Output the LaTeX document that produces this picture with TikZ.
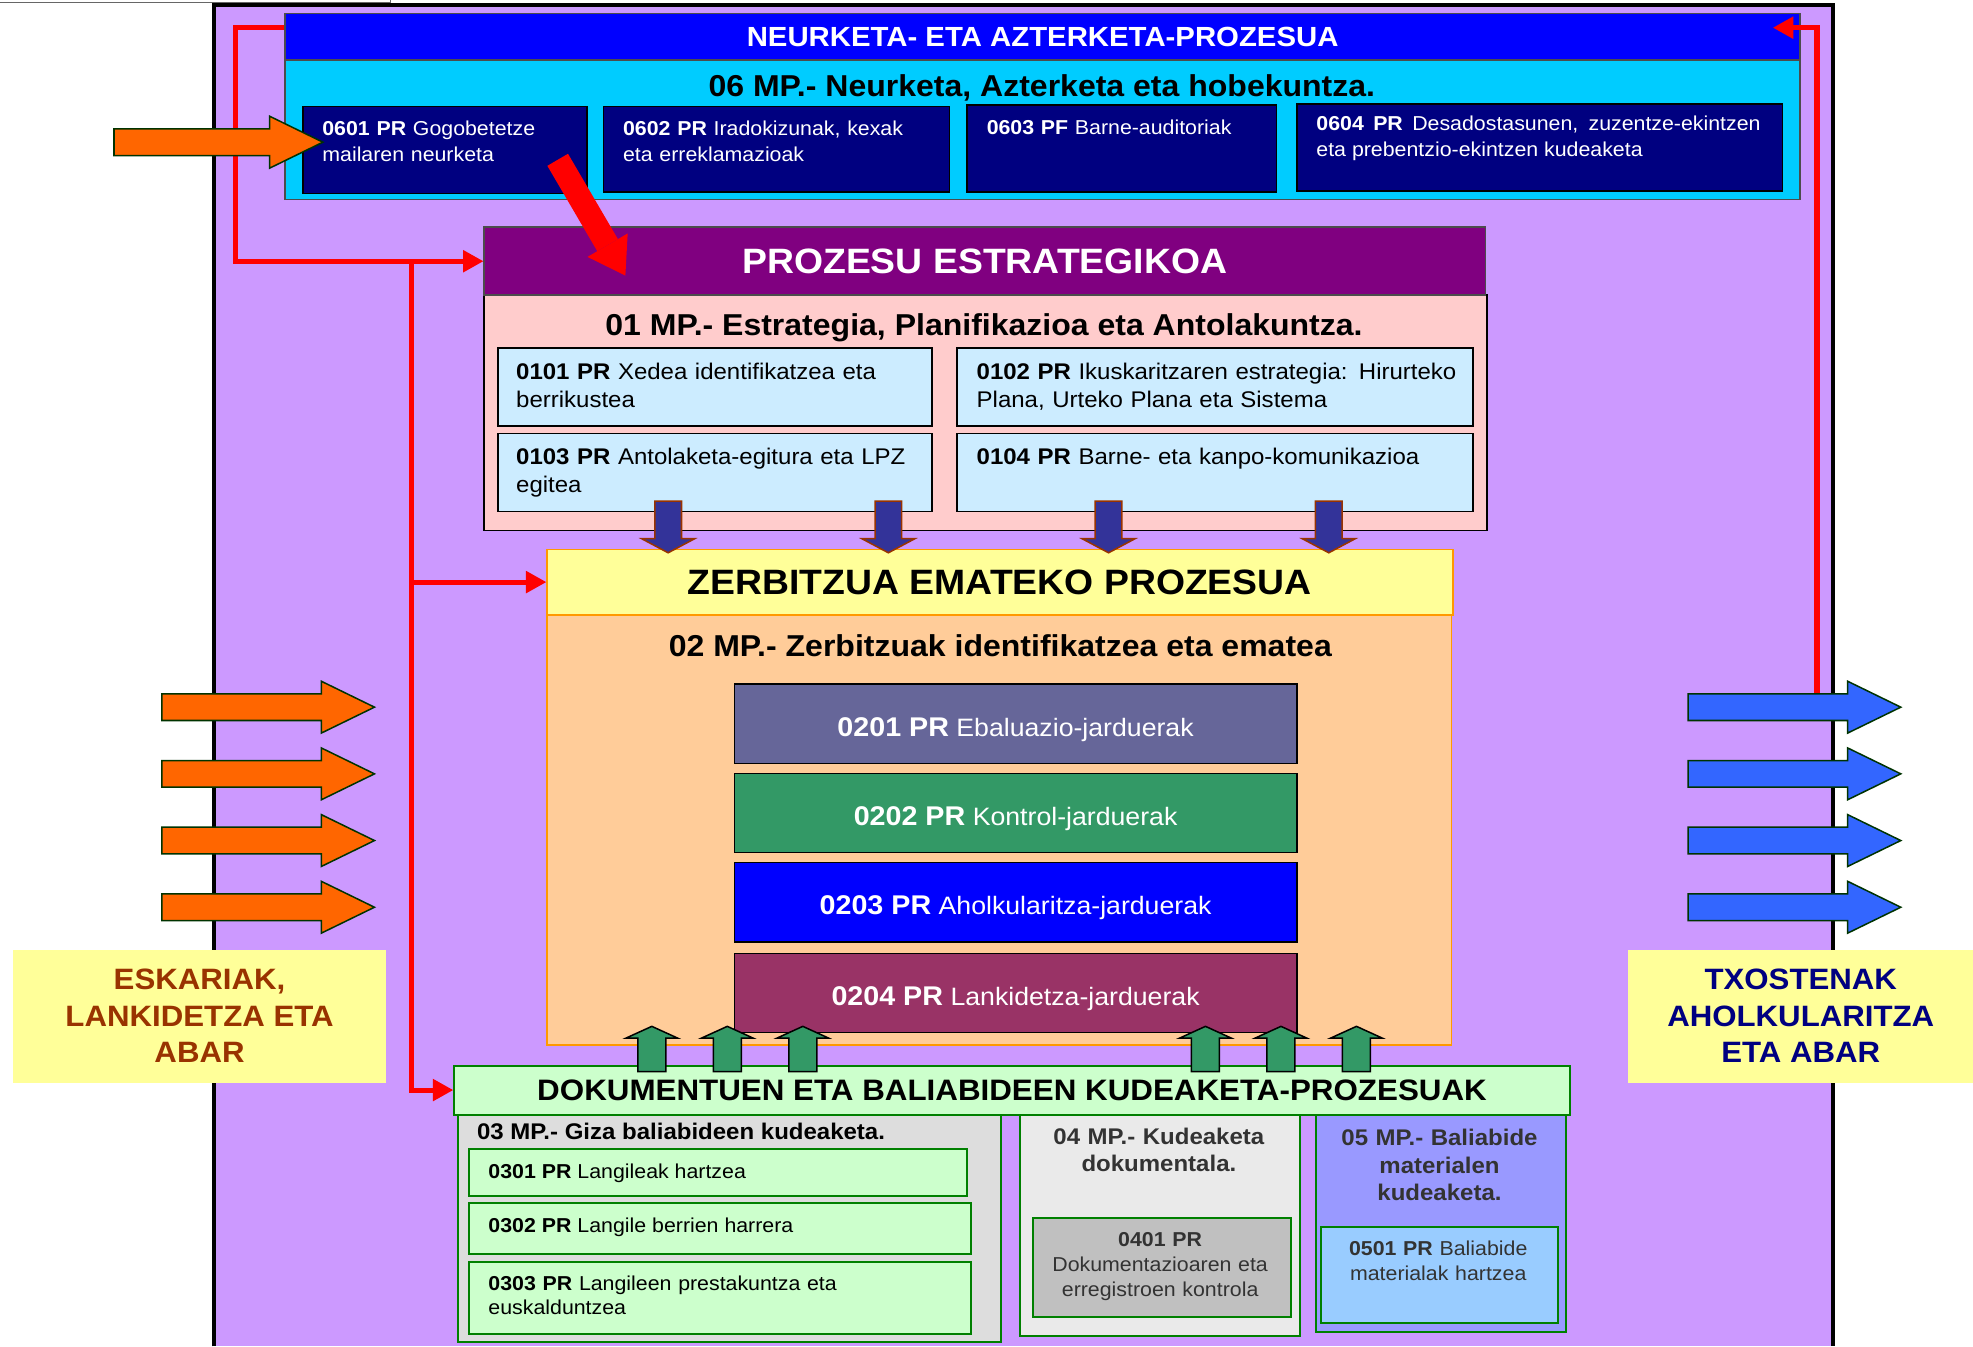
\documentclass[tikz,border=0pt]{standalone}
\usepackage{fontspec}
\setmainfont[FakeStretch=1.06]{Liberation Sans}
\usetikzlibrary{shapes.arrows,arrows.meta}

\definecolor{bglila}{HTML}{CC99FF}
\definecolor{hdrblue}{HTML}{0000FF}
\definecolor{mpcyan}{HTML}{00CCFF}
\definecolor{prnavy}{HTML}{000080}
\definecolor{stratpurple}{HTML}{800080}
\definecolor{stratpink}{HTML}{FFCCCC}
\definecolor{prlightblue}{HTML}{CCECFF}
\definecolor{servyellow}{HTML}{FFFF99}
\definecolor{servpeach}{HTML}{FFCC99}
\definecolor{servorange}{HTML}{FF9900}
\definecolor{evalgray}{HTML}{666699}
\definecolor{ctrlgreen}{HTML}{339966}
\definecolor{collabred}{HTML}{993366}
\definecolor{docgreen}{HTML}{CCFFCC}
\definecolor{docborder}{HTML}{008000}
\definecolor{hrgray}{HTML}{DDDDDD}
\definecolor{docgray}{HTML}{EAEAEA}
\definecolor{recgray}{HTML}{C0C0C0}
\definecolor{matblue}{HTML}{9999FF}
\definecolor{matlight}{HTML}{99CCFF}
\definecolor{inorange}{HTML}{FF6600}
\definecolor{outblue}{HTML}{3366FF}
\definecolor{arrowedge}{HTML}{003300}
\definecolor{downblue}{HTML}{333399}
\definecolor{downedge}{HTML}{993300}
\definecolor{eskbrown}{HTML}{993300}
\definecolor{darktext}{HTML}{333333}

\newcommand{\fsz}[2]{\fontsize{#1}{#2}\selectfont}

\begin{document}
\begin{tikzpicture}[x=1pt,y=-1pt,
  box/.style={rectangle,anchor=north west,inner sep=0pt,line width=1.2pt},
  greenbox/.style={box,draw=docborder,line width=1.6pt},
  txt/.style={anchor=base west,inner sep=0pt,align=left},
  ctxt/.style={anchor=base,inner sep=0pt,align=center},
  navytxt/.style={txt,text=white,font=\fsz{16}{20}},
  bluetxt/.style={txt,font=\fsz{18}{22},text width=340},
  servbox/.style={box,draw=black,minimum width=447,minimum height=63,text=white,
    text height=20pt,text depth=0pt,font=\fsz{20}{24}},
  redline/.style={draw=red,line width=4pt,-{Triangle[length=16pt,width=18pt,line width=0pt]}},
  bigred/.style={draw=red,line width=19pt,-{Triangle[length=28pt,width=37pt,line width=0pt]}},
  fatarrow/.style={single arrow,line width=1.2pt,single arrow head indent=0pt},
  inarrow/.style={fatarrow,draw=arrowedge,fill=inorange,anchor=tail,inner sep=10pt,
    minimum height=169,minimum width=40,single arrow head extend=10,single arrow tip angle=52},
  outarrow/.style={inarrow,fill=outblue},
  downarrow/.style={fatarrow,draw=downedge,fill=downblue,shape border rotate=270,anchor=tip,
    inner sep=10pt,minimum height=41,minimum width=41,single arrow head extend=10.5,
    single arrow tip angle=124},
  uparrow/.style={fatarrow,draw=black,fill=ctrlgreen,shape border rotate=90,anchor=tip,
    inner sep=10.5pt,minimum height=36,minimum width=40,single arrow head extend=9.5,
    single arrow tip angle=131}]

  \useasboundingbox (0,0) rectangle (1568,1070);
  \fill[bglila] (170,4) rectangle (1457,1070);
  \draw[line width=3pt] (170,1070) -- (170,4) -- (1457,4) -- (1457,1070);
  \draw[black!60,line width=0.8pt] (0,2) -- (310,2) -- (310,0);

  % 06 neurketa
  \node[box,fill=mpcyan,draw=black!70,minimum width=1204,minimum height=111] (mp06) at (226,47) {};
  \node[box,fill=hdrblue,draw=black!70,minimum width=1204,minimum height=37,text=white,
    font=\fsz{22}{26}\bfseries] (hdr06) at (226,10) {NEURKETA- ETA AZTERKETA-PROZESUA};
  \node[ctxt,font=\fsz{24}{28}\bfseries] (t06) at (828,77) {06 MP.- Neurketa, Azterketa eta hobekuntza.};
  \node[box,fill=prnavy,draw=black,minimum width=226,minimum height=69] (b0601) at (240,84) {};
  \node[box,fill=prnavy,draw=black,minimum width=275,minimum height=68] (b0602) at (479,84) {};
  \node[box,fill=prnavy,draw=black,minimum width=246,minimum height=69] (b0603) at (768,83) {};
  \node[box,fill=prnavy,draw=black,minimum width=386,minimum height=69] (b0604) at (1030,82) {};
  \node[navytxt,text width=200] (t0601) at (256,108) {\textbf{0601 PR} Gogobetetze\\mailaren neurketa};
  \node[navytxt,text width=250] (t0602) at (495,108) {\textbf{0602 PR} Iradokizunak, kexak\\eta erreklamazioak};
  \node[navytxt,text width=220] (t0603) at (784,107) {\textbf{0603 PF} Barne-auditoriak};
  \node[navytxt,text width=353,align=justify] (t0604) at (1046,104)
    {\textbf{0604 PR} Desadostasunen, zuzentze-ekintzen\linebreak eta prebentzio-ekintzen kudeaketa};

  % 01 estrategia
  \node[box,fill=stratpink,draw=black,minimum width=797,minimum height=187] (mp01) at (384,234) {};
  \node[box,fill=stratpurple,draw=black!70,minimum width=796,minimum height=54,text=white,
    font=\fsz{28}{32}\bfseries] (strat) at (384,180) {PROZESU ESTRATEGIKOA};
  \node[ctxt,font=\fsz{24}{28}\bfseries] (t01) at (782,267) {01 MP.- Estrategia, Planifikazioa eta Antolakuntza.};
  \node[box,fill=prlightblue,draw=black,minimum width=345,minimum height=62] (b0101) at (395,276) {};
  \node[box,fill=prlightblue,draw=black,minimum width=410,minimum height=62] (b0102) at (760,276) {};
  \node[box,fill=prlightblue,draw=black,minimum width=345,minimum height=62] (b0103) at (395,344) {};
  \node[box,fill=prlightblue,draw=black,minimum width=410,minimum height=62] (b0104) at (760,344) {};
  \node[bluetxt] (t0101) at (410,301.5) {\textbf{0101 PR} Xedea identifikatzea eta\\berrikustea};
  \node[bluetxt,text width=395] (t0102) at (776,301.5) {\textbf{0102 PR} Ikuskaritzaren estrategia: Hirurteko\\Plana, Urteko Plana eta Sistema};
  \node[bluetxt] (t0103) at (410,369.5) {\textbf{0103 PR} Antolaketa-egitura eta LPZ\\egitea};
  \node[bluetxt,text width=395] (t0104) at (776,369.5) {\textbf{0104 PR} Barne- eta kanpo-komunikazioa};

  % 02 zerbitzua
  \node[box,fill=servpeach,draw=servorange,minimum width=719,minimum height=342] (mp02) at (434,488) {};
  \node[box,fill=servyellow,draw=servorange,minimum width=720,minimum height=52,
    font=\fsz{28}{32}\bfseries] (zerb) at (434,436) {ZERBITZUA EMATEKO PROZESUA};
  \node[ctxt,font=\fsz{24}{28}\bfseries] (t02) at (795,521.5) {02 MP.- Zerbitzuak identifikatzea eta ematea};
  \node[servbox,fill=evalgray] (b0201) at (583,543) {{\fsz{21.5}{24}\bfseries 0201 PR} Ebaluazio-jarduerak};
  \node[servbox,fill=ctrlgreen] (b0202) at (583,614) {{\fsz{21.5}{24}\bfseries 0202 PR} Kontrol-jarduerak};
  \node[servbox,fill=hdrblue] (b0203) at (583,685) {{\fsz{21.5}{24}\bfseries 0203 PR} Aholkularitza-jarduerak};
  \node[servbox,fill=collabred] (b0204) at (583,757) {{\fsz{21.5}{24}\bfseries 0204 PR} Lankidetza-jarduerak};

  % 03-05 dokumentuak eta baliabideak
  \node[greenbox,fill=hrgray,minimum width=432,minimum height=181] (mp03) at (363,885) {};
  \node[greenbox,fill=docgray,minimum width=222,minimum height=176] (mp04) at (810,885) {};
  \node[greenbox,fill=matblue,minimum width=199,minimum height=173] (mp05) at (1045,885) {};
  \node[greenbox,fill=docgreen,minimum width=887,minimum height=39,
    font=\fsz{23.5}{28}\bfseries] (dok) at (360,846) {DOKUMENTUEN ETA BALIABIDEEN KUDEAKETA-PROZESUAK};
  \node[txt,font=\fsz{18}{22}\bfseries] (t03) at (379,905.4) {03 MP.- Giza baliabideen kudeaketa.};
  \node[greenbox,fill=docgreen,minimum width=396,minimum height=38] (b0301) at (372,912) {};
  \node[greenbox,fill=docgreen,minimum width=399,minimum height=41] (b0302) at (372,955) {};
  \node[greenbox,fill=docgreen,minimum width=399,minimum height=57] (b0303) at (372,1002) {};
  \node[txt,font=\fsz{16}{19}] (t0301) at (388,936.7) {\textbf{0301 PR} Langileak hartzea};
  \node[txt,font=\fsz{16}{19}] (t0302) at (388,979.7) {\textbf{0302 PR} Langile berrien harrera};
  \node[txt,font=\fsz{16}{19},text width=370] (t0303) at (388,1025.7) {\textbf{0303 PR} Langileen prestakuntza eta\\euskalduntzea};
  \node[ctxt,text=darktext,font=\fsz{18}{22}\bfseries,text width=210] (t04) at (921,909.4) {04 MP.- Kudeaketa\\dokumentala.};
  \node[greenbox,fill=recgray,minimum width=205,minimum height=79] (b0401) at (820,967) {};
  \node[ctxt,text=darktext,font=\fsz{16}{20},text width=200] (t0401) at (922,990.7) {\textbf{0401 PR}\\Dokumentazioaren eta\\erregistroen kontrola};
  \node[ctxt,text=darktext,font=\fsz{18}{22}\bfseries,text width=190] (t05) at (1144,910.4) {05 MP.- Baliabide\\materialen\\kudeaketa.};
  \node[greenbox,fill=matlight,minimum width=188,minimum height=77] (b0501) at (1049,974) {};
  \node[ctxt,text=darktext,font=\fsz{16}{20},text width=185] (t0501) at (1143,997.7) {\textbf{0501 PR} Baliabide\\materialak hartzea};

  % sarrerak eta irteerak
  \node[box,fill=servyellow,minimum width=296,minimum height=106,text=eskbrown,align=center,
    font=\fsz{23.4}{29}\bfseries] (esk) at (10,754) {ESKARIAK,\\LANKIDETZA ETA\\ABAR};
  \node[box,fill=servyellow,minimum width=275,minimum height=106,text=prnavy,align=center,
    font=\fsz{23.4}{29}\bfseries] (txo) at (1293,754) {TXOSTENAK\\AHOLKULARITZA\\ETA ABAR};

  % gezi gorriak
  \coordinate (trunk) at (327,207);
  \coordinate (feedback) at (1444,556);
  \draw[redline] ([yshift=-12pt]hdr06.north west) -- ++(-39,0) |- (strat.west);
  \draw[redline] (trunk) |- (dok.west);
  \draw[redline] (trunk |- zerb.west) -- (zerb.west);
  \draw[redline] (feedback) |- ([shift={(-22pt,-12pt)}]hdr06.north east);

  \foreach \x [count=\i] in {531,706,881,1056}
    \node[downarrow] (down\i) at (\x,440) {};
  \foreach \x [count=\i] in {518,578,638,958,1018,1078}
    \node[uparrow] (up\i) at (\x,815) {};
  \node[inarrow,minimum height=166] (in0) at (90,113) {};
  \foreach \y [count=\i] in {562,615,668,721} {
    \node[inarrow] (in\i) at (128,\y) {};
    \node[outarrow] (out\i) at (1341,\y) {};
  }

  \draw[bigred] ([shift={(-24pt,-43pt)}]b0601.north east) -- ([shift={(113pt,-39pt)}]strat.north west);
\end{tikzpicture}
\end{document}
